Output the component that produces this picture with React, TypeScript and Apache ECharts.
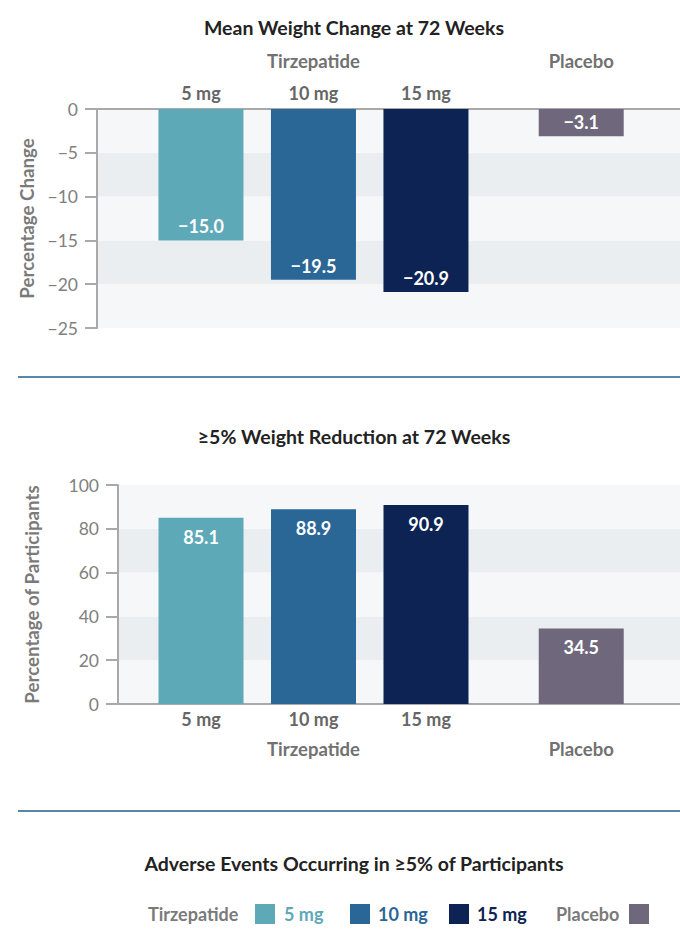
import React, { useEffect, useRef } from "react";
import * as echarts from "echarts";

// ---------- data ----------
const doses = ["5 mg", "10 mg", "15 mg", "Placebo"];
const groupNames = ["Tirzepatide", "Placebo"];
const meanWeightChange = [-15.0, -19.5, -20.9, -3.1];
const fivePctReduction = [85.1, 88.9, 90.9, 34.5];
const topTicks = { min: -25, max: 0, interval: 5 };
const bottomTicks = { min: 0, max: 100, interval: 20 };

const titles = [
  "Mean Weight Change at 72 Weeks",
  "≥5% Weight Reduction at 72 Weeks",
  "Adverse Events Occurring in ≥5% of Participants",
];
const yNames = ["Percentage Change", "Percentage of Participants"];

// ---------- layout / style ----------
const slots = [1, 2, 3, 4.38]; // x slot of each bar (units of bar spacing)
const colors = ["#5ea9b8", "#2b6796", "#0c2354", "#6f687c"];
const FONT = "Lato, 'Noto Sans', sans-serif";
const GRAY = "#7a7a7a";
const AXIS = "#a9a9a9";
const BAND_LIGHT = "#f5f7f9";
const BAND_DARK = "#eaeef1";

const minus = (s: string) => s.replace("-", "\u2212");

function nearestSlot(v: number) {
  let best = 0;
  slots.forEach((s, i) => {
    if (Math.abs(s - v) < Math.abs(slots[best] - v)) best = i;
  });
  return best;
}

export default function App() {
  const ref = useRef<HTMLDivElement>(null);
  useEffect(() => {
    document.body.style.margin = "0";
    if (!ref.current) return;
    const chart = echarts.init(ref.current, null, { renderer: "svg" });

    const makeRich = (lh: number) => ({
      d: { fontFamily: FONT, fontSize: 18, fontWeight: "bold", color: "#666", lineHeight: lh },
      g: { fontFamily: FONT, fontSize: 18.5, color: "#717171", fontWeight: "bold", lineHeight: lh },
    });

    const topFormatter = (v: number) => {
      const i = nearestSlot(v);
      if (i === 1) return `{g|${groupNames[0]}}\n{d|${doses[i]}}`;
      if (i === 3) return `{g|${groupNames[1]}}\n{d| }`;
      return `{d|${doses[i]}}`;
    };
    const bottomFormatter = (v: number) => {
      const i = nearestSlot(v);
      if (i === 1) return `{d|${doses[i]}}\n{g|${groupNames[0]}}`;
      if (i === 3) return `{d| }\n{g|${groupNames[1]}}`;
      return `{d|${doses[i]}}`;
    };

    const yAxisCommon = {
      type: "value" as const,
      axisLine: { show: true, lineStyle: { color: AXIS, width: 2 } },
      axisTick: { show: true, length: 12, lineStyle: { color: AXIS, width: 2 } },
      splitLine: { show: false },
      splitArea: { show: true, areaStyle: { color: [BAND_LIGHT, BAND_DARK] } },
      axisLabel: {
        margin: 19,
        fontFamily: FONT,
        fontSize: 17.5,
        color: "#808080",
        formatter: (v: number) => minus(String(v)),
      },
      nameLocation: "middle" as const,
      nameRotate: 90,
      nameTextStyle: { fontFamily: FONT, fontSize: 18.7, fontWeight: "bold", color: GRAY },
    };

    const xAxisCommon = {
      type: "value" as const,
      max: 5.258,
      axisLine: { show: true, onZero: false, lineStyle: { color: AXIS, width: 2 } },
      axisTick: { show: false },
      splitLine: { show: false },
    };

    const legendY = 914;
    const lt = (x: number, text: string, fill: string) => ({
      type: "text",
      x,
      y: legendY,
      style: { text, fill, fontFamily: FONT, fontSize: 18, fontWeight: "bold", verticalAlign: "middle" },
    });
    const lr = (x: number, fill: string) => ({
      type: "rect",
      shape: { x, y: 904, width: 20, height: 20 },
      style: { fill },
    });
    const legendItems: any[] = [
      lt(148, groupNames[0], GRAY),
      lr(255, colors[0]),
      lt(284, doses[0], colors[0]),
      lr(350, colors[1]),
      lt(378, doses[1], colors[1]),
      lr(449, colors[2]),
      lt(477, doses[2], colors[2]),
      lt(556, groupNames[1], GRAY),
      lr(629, colors[3]),
    ];

    const titleStyle = (text: string) => ({
      text,
      fill: "#222",
      fontFamily: FONT,
      fontSize: 19.5,
      fontWeight: "bold",
      align: "center",
      verticalAlign: "middle",
    });

    const option: any = {
      animation: false,
      backgroundColor: "#fff",
      grid: [
        { left: 97, right: 0, top: 109, height: 219 },
        { left: 118, right: 0, top: 485, height: 219 },
      ],
      xAxis: [
        {
          ...xAxisCommon,
          gridIndex: 0,
          position: "top",
          min: 0.076,
          axisLabel: {
            show: true,
            customValues: slots,
            margin: 0,
            formatter: topFormatter,
            rich: makeRich(32),
            fontFamily: FONT,
          },
        },
        {
          ...xAxisCommon,
          gridIndex: 1,
          position: "bottom",
          min: 0.262,
          axisLabel: {
            show: true,
            customValues: slots,
            margin: 0,
            formatter: bottomFormatter,
            rich: makeRich(30),
            fontFamily: FONT,
          },
        },
      ],
      yAxis: [
        { ...yAxisCommon, gridIndex: 0, ...topTicks, name: yNames[0], nameGap: 57 },
        { ...yAxisCommon, gridIndex: 1, ...bottomTicks, name: yNames[1], nameGap: 77 },
      ],
      series: [
        {
          type: "bar",
          xAxisIndex: 0,
          yAxisIndex: 0,
          barWidth: 85,
          data: meanWeightChange.map((v, i) => ({ value: [slots[i], v], itemStyle: { color: colors[i] } })),
          label: {
            show: true,
            position: "insideBottom",
            distance: 5,
            color: "#fff",
            fontFamily: FONT,
            fontSize: 18,
            fontWeight: "bold",
            formatter: (p: any) => minus(p.value[1].toFixed(1)),
          },
        },
        {
          type: "bar",
          xAxisIndex: 1,
          yAxisIndex: 1,
          barWidth: 85,
          data: fivePctReduction.map((v, i) => ({ value: [slots[i], v], itemStyle: { color: colors[i] } })),
          label: {
            show: true,
            position: "insideTop",
            distance: 10,
            color: "#fff",
            fontFamily: FONT,
            fontSize: 18,
            fontWeight: "bold",
            formatter: (p: any) => p.value[1].toFixed(1),
          },
        },
      ],
      graphic: [
        { type: "text", x: 354, y: 27, style: titleStyle(titles[0]) },
        { type: "text", x: 354, y: 436, style: titleStyle(titles[1]) },
        { type: "text", x: 354, y: 863, style: titleStyle(titles[2]) },
        { type: "line", shape: { x1: 18, y1: 377, x2: 680, y2: 377 }, style: { stroke: "#5a86a8", lineWidth: 2 } },
        { type: "line", shape: { x1: 18, y1: 811, x2: 680, y2: 811 }, style: { stroke: "#5a86a8", lineWidth: 2 } },
        ...legendItems,
      ],
    };

    chart.setOption(option);
    return () => chart.dispose();
  }, []);

  return <div ref={ref} style={{ width: 680, height: 938 }} />;
}
